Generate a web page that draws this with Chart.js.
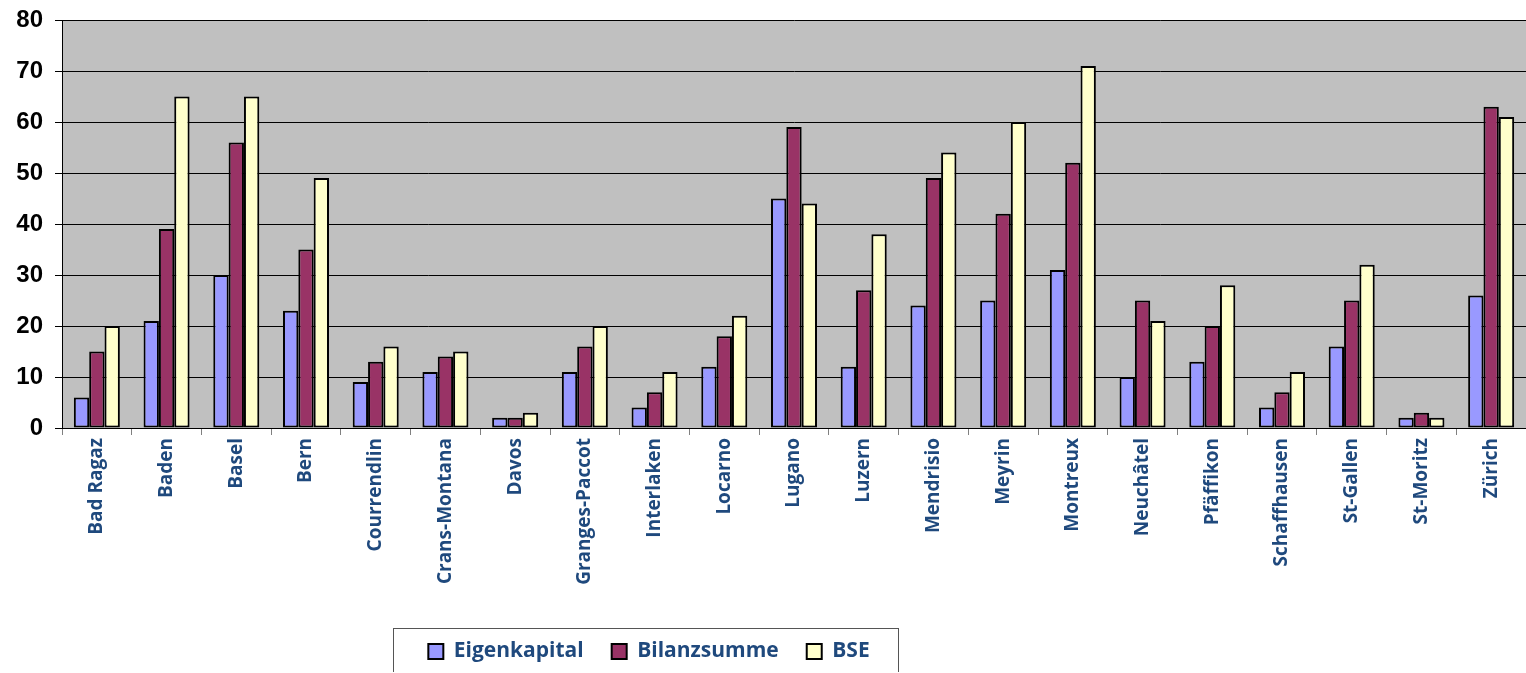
<!DOCTYPE html>
<html>
<head>
<meta charset="utf-8">
<script src="https://cdn.jsdelivr.net/npm/chart.js@4/dist/chart.umd.min.js"></script>
<style>
  html, body { margin: 0; padding: 0; background: #fff; overflow: hidden; }
</style>
</head>
<body>
<canvas id="myChart" width="1526" height="672"></canvas>
<script>
let cities = ["Bad Ragaz", "Baden", "Basel", "Bern", "Courrendlin", "Crans-Montana", "Davos",
    "Granges-Paccot", "Interlaken", "Locarno", "Lugano", "Luzern", "Mendrisio", "Meyrin",
    "Montreux", "Neuchâtel", "Pfäffikon", "Schaffhausen", "St-Gallen", "St-Moritz", "Zürich"];
let eigenkapital = [6, 21, 30, 23, 9, 11, 2, 11, 4, 12, 45, 12, 24, 25, 31, 10, 13, 4, 16, 2, 26];
let bilanzsumme = [15, 39, 56, 35, 13, 14, 2, 16, 7, 18, 59, 27, 49, 42, 52, 25, 20, 7, 25, 3, 63];
let bse = [20, 65, 65, 49, 16, 15, 3, 20, 11, 22, 44, 38, 54, 60, 71, 21, 28, 11, 32, 2, 61];
let seriesNames = ["Eigenkapital", "Bilanzsumme", "BSE"];
let barColors = ["#9999FF", "#993366", "#FFFFCC"];

// grey plot background + frame around the legend
const plotBackground = {
    id: "plotBackground",
    beforeDraw(chart) {
        const a = chart.chartArea;
        const ctx = chart.ctx;
        ctx.save();
        ctx.fillStyle = "#C0C0C0";
        ctx.fillRect(a.left, a.top, a.right - a.left, a.bottom - a.top);
        ctx.restore();
    }
};

const legendFrame = {
    id: "legendFrame",
    afterLayout(chart) {
        // legend sits left of centre in the original
        const lg = chart.legend;
        lg.left = 0;
        lg.right = 1298;
        lg.width = 1298;
    },
    afterDraw(chart) {
        const boxes = chart.legend.legendHitBoxes;
        if (!boxes || !boxes.length) return;
        const first = boxes[0];
        const last = boxes[boxes.length - 1];
        const ctx = chart.ctx;
        ctx.save();
        ctx.strokeStyle = "#555";
        ctx.lineWidth = 1;
        const x0 = Math.round(first.left - 35) + 0.5;
        const x1 = Math.round(last.left + last.width + 28) + 0.5;
        const y0 = Math.round(first.top + first.height / 2 - 24) + 0.5;
        ctx.strokeRect(x0, y0, x1 - x0, 100);
        ctx.restore();
    }
};

const datasets = [eigenkapital, bilanzsumme, bse].map((values, i) => ({
    label: seriesNames[i],
    data: values,
    backgroundColor: barColors[i],
    borderColor: "#000",
    borderWidth: 2,
    borderSkipped: false,
    categoryPercentage: 0.66,
    barPercentage: 1.0
}));

new Chart("myChart", {
    type: "bar",
    data: {
        labels: cities,
        datasets: datasets
    },
    plugins: [plotBackground, legendFrame],
    options: {
        responsive: false,
        animation: false,
        devicePixelRatio: 1,
        layout: { padding: { top: 20, left: 0, right: 0, bottom: 0 } },
        plugins: {
            tooltip: { enabled: false },
            legend: {
                display: true,
                position: "bottom",
                labels: {
                    boxWidth: 15,
                    boxHeight: 15,
                    padding: 28,
                    color: "#1F497D",
                    font: { family: "Open Sans", size: 21, weight: "bold" }
                }
            }
        },
        scales: {
            x: {
                grid: {
                    offset: true,
                    drawOnChartArea: false,
                    drawTicks: true,
                    tickLength: 7,
                    color: "#808080"
                },
                border: { display: true, color: "#000", width: 1 },
                ticks: {
                    minRotation: 90,
                    maxRotation: 90,
                    autoSkip: false,
                    padding: 3,
                    color: "#1F497D",
                    font: { family: "Open Sans", size: 19, weight: "bold" }
                },
                afterFit(scale) { scale.height = 185; }
            },
            y: {
                min: 0,
                max: 80,
                ticks: {
                    stepSize: 10,
                    padding: 12,
                    color: "#000",
                    font: { family: "Liberation Sans", size: 24, weight: "bold" }
                },
                grid: {
                    color: "#000",
                    lineWidth: 1,
                    tickLength: 7,
                    drawTicks: true
                },
                border: { display: true, color: "#000", width: 1 },
                afterFit(scale) {
                    scale.width = 62;
                    scale.paddingTop = 0;
                    scale.paddingBottom = 0;
                }
            }
        }
    }
});
</script>
</body>
</html>
